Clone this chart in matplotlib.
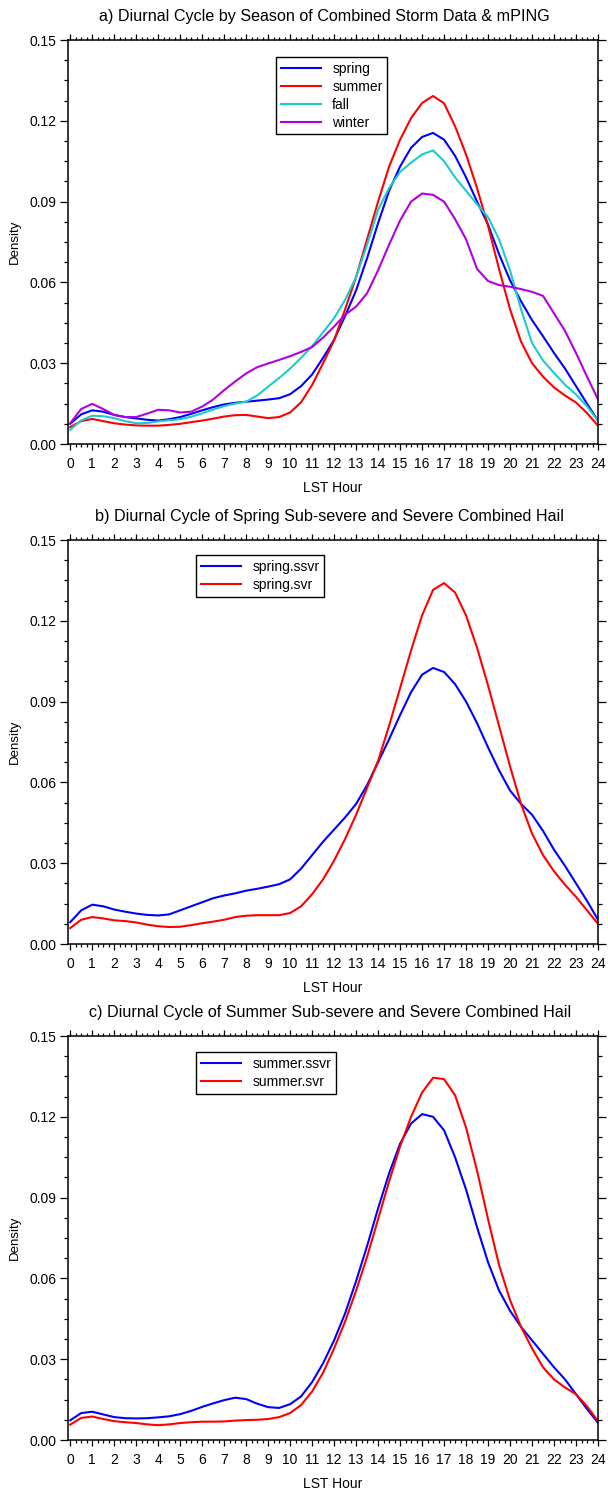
import matplotlib
matplotlib.use('Agg')
import matplotlib.pyplot as plt
from matplotlib.ticker import MultipleLocator, FormatStrFormatter

plt.rcParams['font.family'] = ['Liberation Sans', 'DejaVu Sans']

# hours of the day (LST), half-hour steps
hours = [0, 0.5, 1, 1.5, 2, 2.5, 3, 3.5, 4, 4.5, 5, 5.5, 6, 6.5, 7, 7.5, 8, 8.5,
         9, 9.5, 10, 10.5, 11, 11.5, 12, 12.5, 13, 13.5, 14, 14.5, 15, 15.5,
         16, 16.5, 17, 17.5, 18, 18.5, 19, 19.5, 20, 20.5, 21, 21.5, 22, 22.5,
         23, 23.5, 24]

# panel a) seasons
spring = [0.0075, 0.0110, 0.0125, 0.0120, 0.0108, 0.0100, 0.0095, 0.0090, 0.0087,
          0.0092, 0.0100, 0.0112, 0.0125, 0.0137, 0.0147, 0.0153, 0.0157, 0.0161,
          0.0165, 0.0170, 0.0185, 0.0215, 0.0258, 0.0320, 0.0387, 0.0475, 0.0570,
          0.0690, 0.0820, 0.0940, 0.1030, 0.1100, 0.1140, 0.1155, 0.1130, 0.1070,
          0.0990, 0.0900, 0.0815, 0.0705, 0.0608, 0.0530, 0.0460, 0.0400, 0.0338,
          0.0280, 0.0215, 0.0150, 0.0086]
summer = [0.0063, 0.0085, 0.0093, 0.0085, 0.0077, 0.0072, 0.0069, 0.0068, 0.0068,
          0.0071, 0.0075, 0.0081, 0.0087, 0.0094, 0.0102, 0.0107, 0.0108, 0.0102,
          0.0096, 0.0100, 0.0117, 0.0155, 0.0219, 0.0300, 0.0385, 0.0500, 0.0620,
          0.0760, 0.0900, 0.1030, 0.1130, 0.1210, 0.1266, 0.1292, 0.1265, 0.1180,
          0.1075, 0.0950, 0.0810, 0.0650, 0.0500, 0.0380, 0.0300, 0.0250, 0.0210,
          0.0180, 0.0154, 0.0115, 0.0068]
fall = [0.0053, 0.0088, 0.0105, 0.0103, 0.0096, 0.0085, 0.0077, 0.0078, 0.0084,
        0.0088, 0.0092, 0.0101, 0.0114, 0.0128, 0.0141, 0.0150, 0.0157, 0.0180,
        0.0213, 0.0245, 0.0280, 0.0320, 0.0363, 0.0415, 0.0467, 0.0535, 0.0620,
        0.0740, 0.0870, 0.0950, 0.1010, 0.1045, 0.1075, 0.1090, 0.1050, 0.0990,
        0.0940, 0.0890, 0.0842, 0.0760, 0.0645, 0.0500, 0.0375, 0.0310, 0.0264,
        0.0220, 0.0184, 0.0140, 0.0086]
winter = [0.0077, 0.0130, 0.0149, 0.0130, 0.0108, 0.0100, 0.0100, 0.0113, 0.0127,
          0.0125, 0.0117, 0.0120, 0.0139, 0.0165, 0.0200, 0.0232, 0.0262, 0.0285,
          0.0299, 0.0312, 0.0326, 0.0342, 0.0360, 0.0395, 0.0436, 0.0480, 0.0510,
          0.0560, 0.0645, 0.0740, 0.0830, 0.0900, 0.0930, 0.0925, 0.0900, 0.0835,
          0.0760, 0.0650, 0.0605, 0.0590, 0.0584, 0.0575, 0.0565, 0.0550, 0.0485,
          0.0420, 0.0338, 0.0250, 0.0166]

# panel b) spring sub-severe / severe
spring_ssvr = [0.0081, 0.0125, 0.0146, 0.0140, 0.0128, 0.0120, 0.0113, 0.0108, 0.0106,
               0.0110, 0.0125, 0.0140, 0.0155, 0.0170, 0.0180, 0.0188, 0.0198, 0.0205,
               0.0213, 0.0222, 0.0240, 0.0280, 0.0330, 0.0380, 0.0425, 0.0470, 0.0520,
               0.0590, 0.0675, 0.0760, 0.0850, 0.0935, 0.1000, 0.1025, 0.1010, 0.0965,
               0.0900, 0.0820, 0.0730, 0.0645, 0.0570, 0.0520, 0.0480, 0.0420, 0.0350,
               0.0290, 0.0225, 0.0160, 0.0090]
spring_svr = [0.0059, 0.0090, 0.0100, 0.0095, 0.0088, 0.0085, 0.0080, 0.0072, 0.0066,
              0.0063, 0.0064, 0.0070, 0.0077, 0.0083, 0.0090, 0.0100, 0.0105, 0.0107,
              0.0107, 0.0107, 0.0115, 0.0140, 0.0185, 0.0240, 0.0310, 0.0390, 0.0480,
              0.0580, 0.0680, 0.0810, 0.0950, 0.1090, 0.1220, 0.1315, 0.1340, 0.1305,
              0.1220, 0.1100, 0.0960, 0.0810, 0.0660, 0.0520, 0.0410, 0.0330, 0.0270,
              0.0220, 0.0175, 0.0125, 0.0075]

# panel c) summer sub-severe / severe
summer_ssvr = [0.0073, 0.0100, 0.0105, 0.0095, 0.0085, 0.0081, 0.0080, 0.0081, 0.0084,
               0.0088, 0.0096, 0.0108, 0.0123, 0.0136, 0.0148, 0.0157, 0.0152, 0.0135,
               0.0122, 0.0119, 0.0133, 0.0162, 0.0215, 0.0285, 0.0370, 0.0470, 0.0590,
               0.0720, 0.0860, 0.0990, 0.1100, 0.1175, 0.1210, 0.1200, 0.1150, 0.1050,
               0.0930, 0.0790, 0.0660, 0.0555, 0.0480, 0.0420, 0.0370, 0.0320, 0.0270,
               0.0225, 0.0170, 0.0115, 0.0064]
summer_svr = [0.0057, 0.0082, 0.0087, 0.0078, 0.0070, 0.0066, 0.0063, 0.0058, 0.0055,
              0.0058, 0.0063, 0.0066, 0.0068, 0.0068, 0.0069, 0.0072, 0.0074, 0.0075,
              0.0078, 0.0085, 0.0100, 0.0130, 0.0180, 0.0250, 0.0340, 0.0440, 0.0555,
              0.0680, 0.0820, 0.0960, 0.1090, 0.1200, 0.1290, 0.1345, 0.1340, 0.1280,
              0.1160, 0.1000, 0.0820, 0.0650, 0.0520, 0.0420, 0.0340, 0.0270, 0.0225,
              0.0195, 0.0170, 0.0125, 0.0070]

xtick_labels = [str(h) for h in range(25)]
ytick_values = [0.00, 0.03, 0.06, 0.09, 0.12, 0.15]

BLUE = '#0000ff'
RED = '#ff0000'
CYAN = '#1ccccc'
PURPLE = '#b400dc'

W, H = 608, 1490
LEFT, RIGHT = 68, 598


def make_axes(fig, top, bottom):
    ax = fig.add_axes([LEFT / W, 1 - bottom / H, (RIGHT - LEFT) / W, (bottom - top) / H])
    ax.set_xlim(-0.1, 24.0)
    ax.set_ylim(0, 0.15)
    ax.set_xticks(range(25))
    ax.set_xticklabels(xtick_labels)
    ax.set_yticks(ytick_values)
    ax.xaxis.set_minor_locator(MultipleLocator(0.25))
    ax.yaxis.set_minor_locator(MultipleLocator(0.0075))
    ax.yaxis.set_major_formatter(FormatStrFormatter('%.2f'))
    ax.tick_params(which='both', direction='out', top=True, right=True,
                   width=0.9, labelsize=10)
    ax.tick_params(axis='x', which='major', length=4.5, pad=5)
    ax.tick_params(axis='x', which='minor', length=2.5)
    ax.tick_params(axis='y', which='major', length=5.5, pad=3)
    ax.tick_params(axis='y', which='minor', length=3)
    for s in ax.spines.values():
        s.set_linewidth(1.1)
    fig.text(15 / W, 1 - (top + bottom) / 2 / H, 'Density', rotation=90,
             ha='center', va='center', fontsize=9.5)
    fig.text((LEFT + RIGHT) / 2 / W, 1 - (bottom + 44) / H, 'LST Hour',
             ha='center', va='center', fontsize=10)
    return ax


def add_legend(ax, x0, y1):
    leg = ax.legend(loc='upper left', bbox_to_anchor=(x0, y1), frameon=True,
                    fancybox=False, edgecolor='black', framealpha=1, fontsize=10,
                    handlelength=2.9, handletextpad=0.8, borderpad=0.35,
                    labelspacing=0.28, borderaxespad=0)
    leg.get_frame().set_linewidth(1.0)
    return leg


fig = plt.figure(figsize=(W / 100, H / 100), dpi=100)

# a)
ax1 = make_axes(fig, 40, 444)
ax1.plot(hours, spring, color=BLUE, lw=1.5, label='spring')
ax1.plot(hours, summer, color=RED, lw=1.5, label='summer')
ax1.plot(hours, fall, color=CYAN, lw=1.5, label='fall')
ax1.plot(hours, winter, color=PURPLE, lw=1.5, label='winter')
add_legend(ax1, (276 - LEFT) / (RIGHT - LEFT), (444 - 57) / 404)
fig.text((LEFT + RIGHT) / 2 / W - 0.015, 1 - 17 / H,
         'a) Diurnal Cycle by Season of Combined Storm Data & mPING',
         ha='center', va='center', fontsize=11.6)

# b)
ax2 = make_axes(fig, 540, 944)
ax2.plot(hours, spring_ssvr, color=BLUE, lw=1.5, label='spring.ssvr')
ax2.plot(hours, spring_svr, color=RED, lw=1.5, label='spring.svr')
add_legend(ax2, (196 - LEFT) / (RIGHT - LEFT), (944 - 555) / 404)
fig.text((LEFT + RIGHT) / 2 / W - 0.005, 1 - 517 / H,
         'b) Diurnal Cycle of Spring Sub-severe and Severe Combined Hail',
         ha='center', va='center', fontsize=11.6)

# c)
ax3 = make_axes(fig, 1036, 1440)
ax3.plot(hours, summer_ssvr, color=BLUE, lw=1.5, label='summer.ssvr')
ax3.plot(hours, summer_svr, color=RED, lw=1.5, label='summer.svr')
add_legend(ax3, (196 - LEFT) / (RIGHT - LEFT), (1440 - 1052) / 404)
fig.text((LEFT + RIGHT) / 2 / W - 0.005, 1 - 1013 / H,
         'c) Diurnal Cycle of Summer Sub-severe and Severe Combined Hail',
         ha='center', va='center', fontsize=11.6)

fig.savefig('out.png', dpi=100)
